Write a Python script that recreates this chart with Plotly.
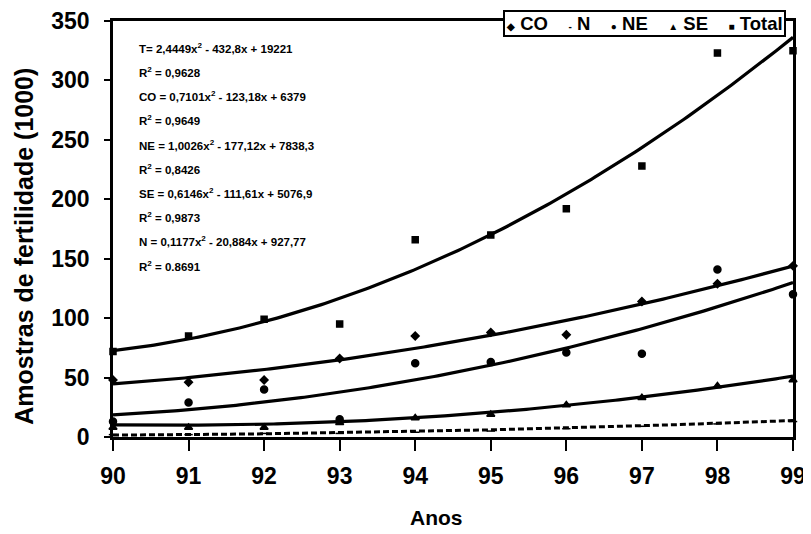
import numpy as np
import plotly.graph_objects as go

years = [90, 91, 92, 93, 94, 95, 96, 97, 98, 99]
total = [72, 85, 99, 95, 166, 170, 192, 228, 323, 325]
co = [48, 46, 48, 66, 85, 88, 86, 114, 129, 144]
n_vals = [2, 2, 3, 3, 4, 5, 7, 9, 11, 13]
ne = [13, 29, 40, 15, 62, 63, 71, 70, 141, 120]
se = [8, 8, 8, 12, 16, 19, 27, 33, 43, 48]

# quadratic trendline coefficients (a, b, c)
coef_total = [2.4449, -432.8, 19221]
coef_co = [0.7101, -123.18, 5379]
coef_ne = [1.0026, -177.12, 7838.3]
coef_se = [0.6146, -111.61, 5076.9]
coef_n = [0.1177, -20.884, 927.77]

series_names = ["CO", "N", "NE", "SE", "Total"]
legend_glyphs = ["◆", "-", "●", "▲", "■"]

eq_lines = [
    "T= 2,4449x<sup>2</sup> - 432,8x + 19221",
    "R<sup>2</sup> = 0,9628",
    "CO = 0,7101x<sup>2</sup> - 123,18x + 6379",
    "R<sup>2</sup> = 0,9649",
    "NE = 1,0026x<sup>2</sup> - 177,12x + 7838,3",
    "R<sup>2</sup> = 0,8426",
    "SE = 0,6146x<sup>2</sup> - 111,61x + 5076,9",
    "R<sup>2</sup> = 0,9873",
    "N = 0,1177x<sup>2</sup> - 20,884x + 927,77",
    "R<sup>2</sup> = 0.8691",
]

FONT = "Arial, Liberation Sans, sans-serif"
xs = np.linspace(90, 99, 200)

# page body has an 8px default margin; layout coords = screen coords - 8
OFF = 8
W, H = 811 - OFF, 534 - OFF
L = 113 - OFF
T = 21 - OFF
R = W - (793 - OFF)
B = H - (437.5 - OFF)
PW, PH = W - L - R, H - T - B

def px_x(p):
    return (p - OFF - L) / PW

def px_y(p):
    return (H - B - (p - OFF)) / PH

fig = go.Figure()

def trend(coef, dash="solid", width=3.2):
    fig.add_trace(go.Scatter(x=xs, y=np.polyval(coef, xs), mode="lines",
                             line=dict(color="black", width=width, dash=dash),
                             showlegend=False, hoverinfo="skip"))

trend(coef_total)
trend(coef_co)
trend(coef_ne)
trend(coef_se)
trend(coef_n, dash="6px,3px", width=3)

def pts(name, vals, symbol, size):
    fig.add_trace(go.Scatter(x=years, y=vals, mode="markers", name=name,
                             cliponaxis=False, showlegend=False,
                             marker=dict(symbol=symbol, size=size, color="black",
                                         line=dict(color="black", width=1.5))))

pts("CO", co, "diamond", 6)
pts("N", n_vals, "line-ew", 6)
pts("NE", ne, "circle", 7)
pts("SE", se, "triangle-up", 7)
pts("Total", total, "square", 6)

# equations
for i, t in enumerate(eq_lines):
    fig.add_annotation(xref="paper", yref="paper", x=px_x(137),
                       y=px_y(48 + i * 24.2),
                       text=t, showarrow=False, xanchor="left", yanchor="middle",
                       font=dict(family=FONT, size=11.5, color="black", weight="bold"))

# legend box
leg_parts = [f'<span style="font-size:10px">{g}</span> {n}'
             for g, n in zip(legend_glyphs, series_names)]
fig.add_annotation(xref="paper", yref="paper", x=px_x(786), y=px_y(10),
                   xanchor="right", yanchor="top", showarrow=False,
                   text="    ".join(leg_parts), bgcolor="white",
                   bordercolor="black", borderwidth=2, borderpad=1,
                   font=dict(family=FONT, size=18.5, color="black", weight="bold"))

# axis titles
fig.add_annotation(xref="paper", yref="paper", x=px_x(24), y=px_y(247),
                   text="Amostras de fertilidade (1000)", textangle=-90,
                   showarrow=False, xanchor="center", yanchor="middle",
                   font=dict(family=FONT, size=25, color="black", weight="bold"))
fig.add_annotation(xref="paper", yref="paper", x=px_x(436), y=px_y(518),
                   text="Anos", showarrow=False, xanchor="center", yanchor="middle",
                   font=dict(family=FONT, size=21, color="black", weight="bold"))

fig.update_layout(
    width=W, height=H,
    margin=dict(l=L, r=R, t=T, b=B),
    paper_bgcolor="white", plot_bgcolor="white",
    font=dict(family=FONT, color="black"),
    showlegend=False,
    xaxis=dict(range=[90, 99], tickmode="array", tickvals=years,
               ticktext=[str(y) for y in years], automargin=False,
               showgrid=False, zeroline=False, showline=True, linecolor="black",
               linewidth=2.5, mirror=True, ticks="outside", ticklen=11, tickwidth=1.5,
               tickcolor="black", ticklabelstandoff=6,
               tickfont=dict(family=FONT, size=23, color="black", weight="bold")),
    yaxis=dict(range=[0, 350], tickmode="array", tickvals=list(range(0, 351, 50)),
               automargin=False,
               showgrid=False, zeroline=False, showline=True, linecolor="black",
               linewidth=2.5, mirror=True, ticks="outside", ticklen=6, tickwidth=1.5,
               tickcolor="black", ticklabelstandoff=10,
               tickfont=dict(family=FONT, size=23, color="black", weight="bold")),
)

fig.write_html("out.html")
